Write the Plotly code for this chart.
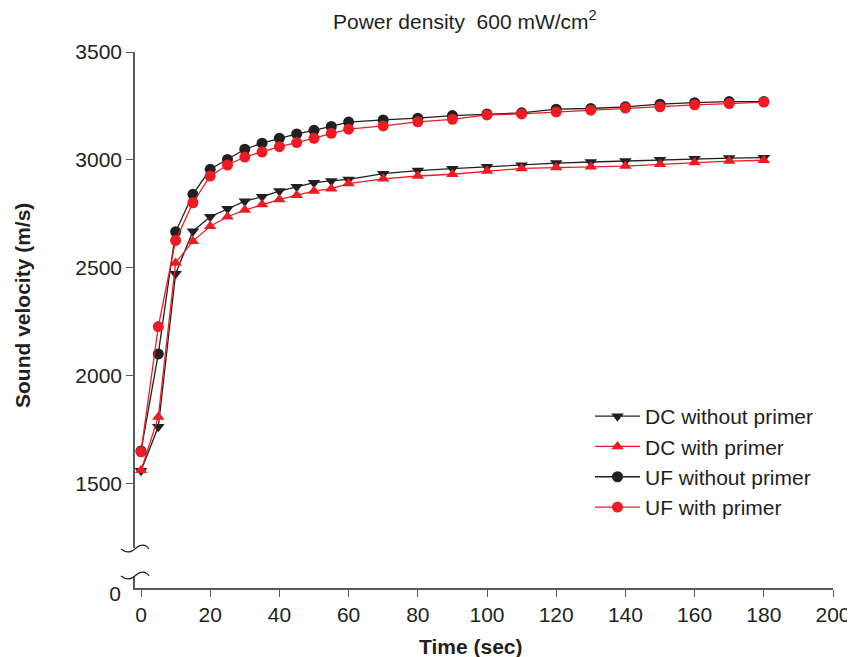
import plotly.graph_objects as go

# ---- data ----
time_sec = [0, 5, 10, 15, 20, 25, 30, 35, 40, 45, 50, 55, 60,
            70, 80, 90, 100, 110, 120, 130, 140, 150, 160, 170, 180]
dc_without = [1558, 1762, 2472, 2669, 2736, 2773, 2808, 2829, 2855, 2875, 2894, 2902, 2909,
              2936, 2950, 2959, 2968, 2975, 2985, 2990, 2995, 3000, 3005, 3008, 3010]
dc_with = [1560, 1808, 2522, 2623, 2692, 2736, 2767, 2793, 2816, 2836, 2855, 2866, 2890,
           2912, 2925, 2933, 2948, 2960, 2964, 2968, 2971, 2979, 2988, 2994, 2998]
uf_without = [1650, 2100, 2666, 2840, 2956, 3002, 3049, 3077, 3100, 3120, 3137, 3155, 3175,
              3185, 3193, 3205, 3213, 3218, 3235, 3238, 3246, 3258, 3265, 3270, 3270]
uf_with = [1646, 2227, 2626, 2801, 2925, 2976, 3013, 3036, 3061, 3080, 3100, 3123, 3142,
           3157, 3176, 3188, 3208, 3213, 3222, 3230, 3240, 3246, 3255, 3261, 3268]

x_ticks = [0, 20, 40, 60, 80, 100, 120, 140, 160, 180, 200]
y_ticks_upper = [1500, 2000, 2500, 3000, 3500]
y_ticks_lower = [0]

BLACK = "#231f20"
RED = "#ed1c24"
AXIS = "#58595b"
FONT = "Liberation Sans, Arial, Helvetica, sans-serif"

series = [
    ("DC without primer", dc_without, BLACK, "triangle-down"),
    ("DC with primer", dc_with, RED, "triangle-up"),
    ("UF without primer", uf_without, BLACK, "circle"),
    ("UF with primer", uf_with, RED, "circle"),
]

fig = go.Figure()
# empty trace so the lower (broken-axis) segment gets its own subplot
fig.add_trace(go.Scatter(x=[], y=[], xaxis="x", yaxis="y", showlegend=False,
                         hoverinfo="skip"))
for name, vals, col, sym in series:
    fig.add_trace(go.Scatter(
        x=time_sec, y=vals, name=name, mode="lines+markers",
        line=dict(color=col, width=1.3),
        marker=dict(color=col, symbol=sym, size=11, line=dict(width=0)),
        xaxis="x", yaxis="y2",
    ))

# page offset (browser body margin) and plot area in page pixels
OFF = 8
W, H = 855, 657
P_LEFT, P_RIGHT, P_TOP, P_BOTTOM = 135, 833, 52, 588
L = P_LEFT - OFF
T = P_TOP - OFF
R = W - (P_RIGHT - OFF)
B = H - (P_BOTTOM - OFF)
pw, ph = P_RIGHT - P_LEFT, P_BOTTOM - P_TOP


def px2paper(px, py):
    return (px - P_LEFT) / pw, (P_BOTTOM - py) / ph


def wave(cy):
    pts = [(121, cy), (127, cy + 5), (132, cy + 3), (136, cy - 1),
           (140, cy - 5), (146, cy - 5), (149, cy)]
    p = [px2paper(a, b) for a, b in pts]
    return ("M{},{} C{},{} {},{} {},{} C{},{} {},{} {},{}".format(
        *[v for xy in p for v in xy]))


shapes = [dict(type="path", path=wave(549), xref="paper", yref="paper",
               line=dict(color=BLACK, width=1.2)),
          dict(type="path", path=wave(576), xref="paper", yref="paper",
               line=dict(color=BLACK, width=1.2))]

upper_bottom_px = 548
lower_top_px = 576
y2_dom0 = (P_BOTTOM - upper_bottom_px) / ph
y_dom1 = (P_BOTTOM - lower_top_px) / ph
y2_scale = ph * (1 - y2_dom0) / (3500 - 1200)

fig.update_layout(
    width=W, height=H,
    margin=dict(l=L, r=R, t=T, b=B),
    plot_bgcolor="white", paper_bgcolor="white",
    font=dict(family=FONT, size=21, color=BLACK),
    showlegend=True,
    legend=dict(x=px2paper(590, 0)[0], y=px2paper(0, 396)[1],
                xanchor="left", yanchor="top",
                bgcolor="rgba(0,0,0,0)", font=dict(size=21, color=BLACK),
                itemwidth=45, tracegroupgap=0),
    xaxis=dict(range=[-1.734, 200], tickvals=x_ticks, showgrid=False, zeroline=False,
               showline=True, linecolor=AXIS, linewidth=1.5, ticks="outside",
               ticklen=7, tickcolor=AXIS, tickwidth=1.3, anchor="y",
               tickfont=dict(size=21, color=BLACK)),
    yaxis=dict(domain=[0, y_dom1], range=[0, (P_BOTTOM - lower_top_px) / y2_scale],
               tickvals=y_ticks_lower, showgrid=False, zeroline=False,
               showline=True, linecolor=AXIS, linewidth=1.5, ticks="",
               ticklabelstandoff=8, ticklabelshift=6,
               anchor="x", tickfont=dict(size=21, color=BLACK)),
    yaxis2=dict(domain=[y2_dom0, 1], range=[1200, 3500], tickvals=y_ticks_upper,
                showgrid=False, zeroline=False, showline=True, linecolor=AXIS,
                linewidth=1.5, ticks="outside", ticklen=7, tickcolor=AXIS,
                tickwidth=1.3, anchor="x", tickfont=dict(size=21, color=BLACK)),
    shapes=shapes,
    annotations=[
        dict(text="Power density  600 mW/cm<sup>2</sup>", xref="paper", yref="paper",
             x=px2paper(465, 0)[0], y=px2paper(0, 20)[1], xanchor="center",
             yanchor="middle", showarrow=False, font=dict(size=21, color=BLACK)),
        dict(text="<b>Time (sec)</b>", xref="paper", yref="paper",
             x=px2paper(471, 0)[0], y=px2paper(0, 646)[1], xanchor="center",
             yanchor="middle", showarrow=False, font=dict(size=21, color=BLACK)),
        dict(text="<b>Sound velocity (m/s)</b>", xref="paper", yref="paper",
             x=px2paper(22, 0)[0], y=px2paper(0, 306)[1], xanchor="center",
             yanchor="middle", showarrow=False, textangle=-90,
             font=dict(size=21, color=BLACK)),
    ],
)

fig.write_html("out.html")
